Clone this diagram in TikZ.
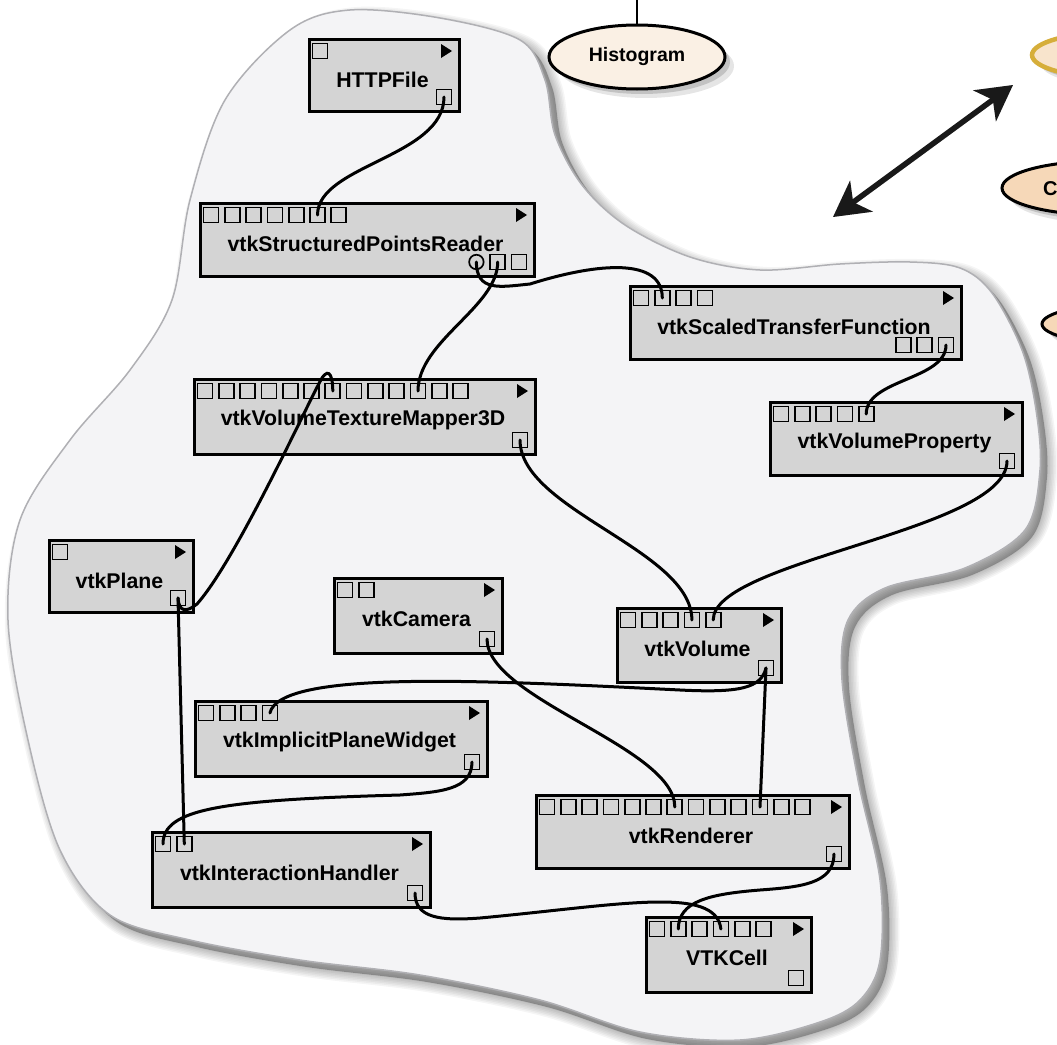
\documentclass[tikz,border=0pt]{standalone}
\usepackage{fontspec}
\setmainfont{Liberation Sans}
\usetikzlibrary{arrows.meta,shapes.geometric}
\definecolor{blobfill}{HTML}{F4F4F6}
\definecolor{blobline}{HTML}{B0B0B4}
\definecolor{modfill}{HTML}{D4D4D4}
\definecolor{histfill}{HTML}{FAF0E4}
\definecolor{peach}{HTML}{F6D8B8}
\definecolor{gold}{HTML}{D6AE3A}
\definecolor{goldfill}{HTML}{F8E4CC}
\tikzset{
  modbox/.style={draw=black, fill=modfill, line width=3.2pt, inner sep=0pt, anchor=north west, rectangle},
  port/.style={draw=black, line width=1.7pt, rectangle, minimum size=15pt, inner sep=0pt, fill=modfill},
  cport/.style={draw=black, line width=1.7pt, circle, minimum size=14.5pt, inner sep=0pt, fill=modfill},
  modlabel/.style={font=\fontsize{21.3}{25}\selectfont\bfseries, inner sep=0pt},
  wire/.style={draw=black, line width=3pt, line cap=round},
  oval/.style={ellipse, draw=black, line width=3pt, inner sep=0pt,
     preaction={fill=black, opacity=0.10, transform canvas={shift={(9pt,-9pt)}}},
     preaction={fill=black, opacity=0.15, transform canvas={shift={(5pt,-5pt)}}}},
  bigarrow/.style={line width=5.5pt, {Stealth[length=35pt,width=38pt,inset=10pt]}-{Stealth[length=35pt,width=38pt,inset=10pt]}}
}
\newcommand{\blobplot}{plot[smooth cycle, tension=0.55] coordinates {
 (350,10) (440,18) (520,40) (545,80) (555,135) (582,185) (625,225) (690,257) (760,270)
 (840,264) (910,262) (960,268) (992,293) (1022,350) (1036,410) (1040,470) (1025,530)
 (965,568) (885,588) (848,620) (842,680) (858,780) (880,880) (880,960) (860,1000)
 (820,1022) (740,1040) (640,1032) (540,1000) (420,975) (300,960) (190,940) (110,915)
 (60,850) (28,740) (8,620) (20,520) (70,440) (130,370) (172,300) (190,200) (225,100) (290,30)}}
\newcommand{\vtkmodule}[8]{%
  \node[modbox, minimum width={#4-#2-3}, minimum height={#5-#3-3}] (#1) at ({#2+1.5},{#3+1.5}) {};
  \node[modlabel] (#1-lab) at ({(#2+#4)/2},{#3+44}) {#6};
  \fill[black] ({#4-18},{#3+8}) -- ({#4-7},{#3+15}) -- ({#4-18},{#3+22}) -- cycle;
  \foreach \i in {1,...,#7}{\node[port] (#1-i\i) at ({#2+14+(\i-1)*21.3},{#3+15}) {};}
  \foreach \i in {1,...,#8}{\node[port] (#1-o\i) at ({#4-15-(\i-1)*21.3},{#5-14}) {};}
}
\begin{document}
\begin{tikzpicture}[x=1pt,y=-1pt]
\useasboundingbox (0,0) rectangle (1057,1044);
\clip (0,0) rectangle (1057,1044);
\fill[white] (0,0) rectangle (1057,1044);
% blob shadow
\begin{scope}[shift={(7,7)}]
  \foreach \w in {2,5,8,11,14,17,20}{\draw[black, opacity=0.04, line width=\w pt] \blobplot;}
  \fill[black, opacity=0.28] \blobplot;
\end{scope}
\fill[blobfill] \blobplot;
\draw[blobline, line width=1.5pt] \blobplot;
% ellipses
\node[oval, fill=histfill, minimum width=176pt, minimum height=64pt, font=\fontsize{19.5}{22}\selectfont\bfseries] (hist) at (637,57) {Histogram};
\coordinate (histtop) at (637,0);
\draw[line width=1.6pt] (hist.north) -- (histtop);
\node[oval, draw=gold, line width=4.5pt, fill=goldfill, minimum width=170pt, minimum height=46pt] (goldov) at (1117,55) {};
\node[oval, fill=peach, minimum width=200pt, minimum height=54pt] (cov) at (1102,188) {};
\node[font=\fontsize{20}{24}\selectfont\bfseries, anchor=west, inner sep=0pt] (covtxt) at (1043,189) {C};
\node[oval, fill=peach, minimum width=170pt, minimum height=40pt] (ov3) at (1127,324) {};
% double arrow
\coordinate (arA) at (833,217);
\coordinate (arB) at (1013,85);
\begin{scope}[shift={(6,6)}]
\draw[bigarrow, black, opacity=0.15] (arA) -- (arB);
\end{scope}
\draw[bigarrow, black!90] (arA) -- (arB);
% modules
\vtkmodule{http}{306}{36}{459}{111}{HTTPFile}{1}{1}
\vtkmodule{reader}{197}{200}{534}{276}{vtkStructuredPointsReader}{7}{2}
\node[cport] (reader-oc) at (476.4,262) {};
\vtkmodule{stf}{627}{283}{961}{359}{vtkScaledTransferFunction}{4}{3}
\vtkmodule{mapper}{191}{376}{535}{454}{vtkVolumeTextureMapper3D}{13}{1}
\vtkmodule{vprop}{767}{399}{1022}{475}{vtkVolumeProperty}{5}{1}
\vtkmodule{plane}{46}{537}{193}{612}{vtkPlane}{1}{1}
\vtkmodule{camera}{331}{575}{502}{653}{vtkCamera}{2}{1}
\vtkmodule{volume}{614}{605}{781}{682}{vtkVolume}{5}{1}
\vtkmodule{widget}{192}{698}{487}{776}{vtkImplicitPlaneWidget}{4}{1}
\vtkmodule{handler}{149}{829}{430}{907}{vtkInteractionHandler}{2}{1}
\vtkmodule{renderer}{533}{792}{849}{868}{vtkRenderer}{13}{1}
\vtkmodule{cell}{643}{914}{811}{992}{VTKCell}{6}{1}
% wires
\draw[wire] (http-o1.center) .. controls +(0,60) and +(0,-50) .. (reader-i6.center);
\draw[wire] (reader-oc.center) .. controls +(0,30) and +(-30,3) .. (530,284) .. controls +(70,-22) and +(0,-40) .. (stf-i2.center);
\draw[wire] (reader-o2.center) .. controls +(0,45) and +(0,-50) .. (mapper-i11.center);
\draw[wire] (stf-o1.center) .. controls +(0,35) and +(0,-35) .. (vprop-i5.center);
\draw[wire] (vprop-o1.center) .. controls +(0,70) and +(0,-60) .. (volume-i5.center);
\draw[wire] (mapper-o1.center) .. controls +(0,70) and +(0,-70) .. (volume-i4.center);
\draw[wire] (plane-o1.center) .. controls +(1,15) and +(-10,8) .. (197,604) .. controls +(40,-45) and +(-12,20) .. (322,378) .. controls +(8,-12) and +(0,-12) .. (mapper-i7.center);
\draw[wire] (plane-o1.center) -- (handler-i2.center);
\draw[wire] (widget-o1.center) .. controls +(0,28) and +(40,-3) .. (400,795) .. controls +(-180,5) and +(0,-35) .. (handler-i1.center);
\draw[wire] (volume-o1.center) .. controls +(-5,20) and +(60,3) .. (680,690) .. controls +(-200,-10) and +(10,-43) .. (widget-i4.center);
\draw[wire] (volume-o1.center) -- (renderer-i11.center);
\draw[wire] (camera-o1.center) .. controls +(0,60) and +(0,-60) .. (renderer-i7.center);
\draw[wire] (renderer-o1.center) .. controls +(0,30) and +(40,-3) .. (760,890) .. controls +(-50,4) and +(0,-28) .. (cell-i2.center);
\draw[wire] (handler-o1.center) .. controls +(0,25) and +(-40,3) .. (480,918) .. controls +(140,-13) and +(-5,-44) .. (cell-i4.center);
\end{tikzpicture}
\end{document}
